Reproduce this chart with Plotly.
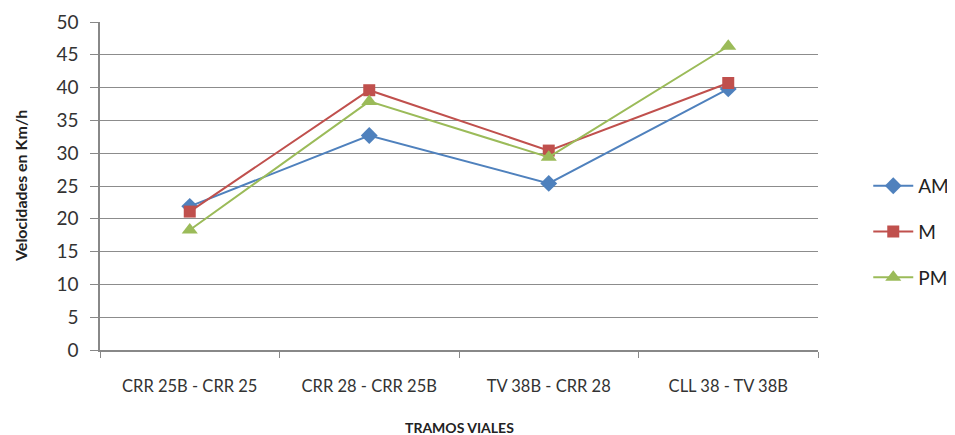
import plotly.graph_objects as go

categories = ["CRR 25B - CRR 25", "CRR 28 - CRR 25B", "TV 38B - CRR 28", "CLL 38 - TV 38B"]
am = [21.9, 32.7, 25.4, 39.8]
m = [21.1, 39.6, 30.4, 40.7]
pm = [18.3, 37.9, 29.4, 46.3]
y_ticks = [0, 5, 10, 15, 20, 25, 30, 35, 40, 45, 50]

FONT = "Lato"
W, H = 947, 427
ML, MR, MT, MB = 92, 137, 14, 85

fig = go.Figure()
series = [
    ("AM", am, "#4F81BD", "diamond", 13),
    ("M", m, "#C0504D", "square", 12),
    ("PM", pm, "#9BBB59", "triangle-up", 14),
]
for i, (name, vals, col, sym, sz) in enumerate(series):
    fig.add_trace(go.Scatter(
        x=categories, y=vals, name=name, mode="lines+markers",
        line=dict(color=col, width=2),
        marker=dict(symbol=sym, size=sz, color=col),
        legendgroup=f"g{i}",
    ))

ph = H - MT - MB
pw = W - ML - MR
fig.update_layout(
    width=W, height=H,
    margin=dict(l=ML, r=MR, t=MT, b=MB, autoexpand=False),
    plot_bgcolor="white", paper_bgcolor="white",
    font=dict(family=FONT, color="#222"),
    legend=dict(x=1.07, y=0.36, yanchor="middle", xanchor="left",
                font=dict(size=19, family=FONT), tracegroupgap=18,
                itemwidth=40),
    showlegend=True,
    annotations=[
        dict(text="<b>TRAMOS VIALES</b>", xref="paper", yref="paper",
             x=0.5, y=-(419 - (MT + ph)) / ph, xanchor="center", yanchor="middle",
             showarrow=False, font=dict(size=14, family=FONT, color="#222")),
        dict(text="<b>Velocidades en Km/h</b>", xref="paper", yref="paper",
             x=-(ML - 12) / pw, y=0.5, xanchor="center", yanchor="middle", textangle=-90,
             showarrow=False, font=dict(size=16, family=FONT, color="#222")),
    ],
)
fig.update_xaxes(
    type="category", tickson="boundaries", ticks="outside", ticklen=6,
    tickcolor="#888", showline=True, linecolor="#888", linewidth=1.5,
    showgrid=False, tickfont=dict(size=16.5, family=FONT, color="#333"),
    ticklabelstandoff=20, automargin=False,
    range=[-0.5, 3.5],
)
fig.update_yaxes(
    range=[0, 50], tickvals=y_ticks, ticks="outside", ticklen=8, tickcolor="#888",
    showline=True, linecolor="#888", linewidth=1.5,
    showgrid=True, gridcolor="#8c8c8c", gridwidth=1.3, zeroline=False,
    tickfont=dict(size=19, family=FONT, color="#333"),
    ticklabelstandoff=8, automargin=False,
)
fig.write_html("out.html")
